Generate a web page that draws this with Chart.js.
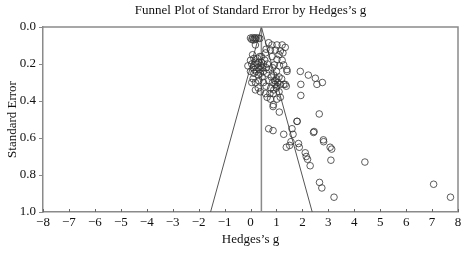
<!DOCTYPE html>
<html>
<head>
<meta charset="utf-8">
<script src="https://cdn.jsdelivr.net/npm/chart.js@4/dist/chart.umd.min.js"></script>
<style>
  html, body { margin: 0; padding: 0; background: #fff; }
  #wrap { width: 467px; height: 255px; }
</style>
</head>
<body>
<div id="wrap"><canvas id="funnel"></canvas></div>
<script>
// ============================================
// Data
// ============================================
const chartTitle = 'Funnel Plot of Standard Error by Hedges’s g';
const xTitle = 'Hedges’s g';
const yTitle = 'Standard Error';

const xTicks = [-8, -7, -6, -5, -4, -3, -2, -1, 0, 1, 2, 3, 4, 5, 6, 7, 8];
const yTicks = [0.0, 0.2, 0.4, 0.6, 0.8, 1.0];

// pooled effect and the 95% funnel limits
const meanG = 0.42;
const zLimit = 1.96;
const seMax = 1.0;

// studies: Hedges's g and its standard error
const studyG = [
    0.00, 0.08, 0.15, 0.22, 0.30, 0.36, 0.05, 0.20, 0.12,
    0.19, 0.70, 0.83, 1.02, 1.22, 0.77, 0.96, 1.15, 1.25, 1.34, 0.58, 0.42, 0.83, 1.02, 1.22, 0.60, 1.10,
    0.00, 0.13, 0.32, 0.05, 0.18, 0.25, 0.40, 0.50, 0.10, 0.28, 0.35, 0.45, 0.60, 0.00, 0.13, 0.22, 0.38,
    0.50, 0.30, 0.20, 0.15, 0.42, 0.55, -0.10, 0.65, 0.27, 0.08, 0.35, 0.62, 0.70,
    0.92, 1.12, 1.28, 1.41, 0.85, 1.00, 1.40,
    0.80, 0.90, 1.00, 1.10, 0.85, 0.95, 1.05, 1.15, 0.78, 0.90, 1.00, 1.10, 0.95, 1.02, 0.88, 1.20, 0.70, 0.75,
    0.19, 0.32, 0.50, 0.19, 0.38, 0.58, 0.64, 0.77, 0.87, 1.02, 1.15, 1.28, 1.38, 0.10, 0.45, 0.60, 0.30, 0.05,
    1.92, 2.23, 2.50, 2.77, 1.94, 2.56, 1.34, 1.94, 0.88, 1.11, 2.65, 0.70, 0.87, 1.28, 1.60, 1.79, 1.64,
    1.38, 1.51, 1.56, 1.85, 1.88, 2.11, 2.15, 2.20, 2.30, 2.43, 2.45, 2.81, 3.07, 3.13, 3.10, 4.41, 2.66,
    2.75, 3.22, 7.06, 7.71, 1.80, 2.82
];
const studySE = [
    0.060, 0.058, 0.060, 0.058, 0.060, 0.062, 0.068, 0.066, 0.070,
    0.097, 0.085, 0.097, 0.097, 0.097, 0.124, 0.125, 0.130, 0.140, 0.110, 0.140, 0.160, 0.160, 0.175, 0.180, 0.120, 0.150,
    0.180, 0.170, 0.190, 0.200, 0.210, 0.200, 0.210, 0.200, 0.220, 0.220, 0.230, 0.220, 0.220, 0.240, 0.250, 0.240, 0.250,
    0.240, 0.260, 0.190, 0.230, 0.190, 0.180, 0.210, 0.200, 0.170, 0.150, 0.160, 0.250, 0.230,
    0.205, 0.210, 0.205, 0.240, 0.220, 0.240, 0.230,
    0.270, 0.260, 0.280, 0.270, 0.300, 0.310, 0.300, 0.310, 0.330, 0.340, 0.330, 0.350, 0.290, 0.320, 0.360, 0.280, 0.290, 0.360,
    0.300, 0.290, 0.300, 0.340, 0.350, 0.360, 0.380, 0.390, 0.430, 0.390, 0.380, 0.310, 0.320, 0.280, 0.270, 0.320, 0.330, 0.300,
    0.240, 0.260, 0.277, 0.300, 0.310, 0.310, 0.310, 0.370, 0.420, 0.460, 0.470, 0.550, 0.560, 0.580, 0.550, 0.510, 0.580,
    0.650, 0.640, 0.620, 0.630, 0.650, 0.680, 0.700, 0.715, 0.750, 0.570, 0.565, 0.610, 0.650, 0.660, 0.720, 0.730, 0.840,
    0.870, 0.920, 0.850, 0.920, 0.510, 0.620
];

// ============================================
// Build datasets
// ============================================
const studyPoints = studyG.map((g, i) => ({ x: g, y: studySE[i] }));
const funnelPoints = [
    { x: meanG - zLimit * seMax, y: seMax },
    { x: meanG, y: 0 },
    { x: meanG + zLimit * seMax, y: seMax }
];
const meanPoints = [{ x: meanG, y: 0 }, { x: meanG, y: seMax }];

const serif = '"Liberation Serif", "Times New Roman", serif';
const axisGrey = '#8a8a8a';

// frame on top/right and small inward ticks on the x axis
const framePlugin = {
    id: 'frame',
    afterDraw(chart) {
        const ctx = chart.ctx;
        const a = chart.chartArea;
        const xs = chart.scales.x;
        ctx.save();
        ctx.strokeStyle = axisGrey;
        ctx.lineWidth = 1.5;
        ctx.beginPath();
        ctx.moveTo(a.left, a.top);
        ctx.lineTo(a.right, a.top);
        ctx.lineTo(a.right, a.bottom);
        ctx.stroke();
        ctx.lineWidth = 1;
        ctx.strokeStyle = '#666';
        xTicks.forEach(v => {
            const px = Math.round(xs.getPixelForValue(v)) + 0.5;
            ctx.beginPath();
            ctx.moveTo(px, a.bottom);
            ctx.lineTo(px, a.bottom - 3);
            ctx.stroke();
        });
        // title centred over the plot area
        ctx.fillStyle = '#111';
        ctx.font = '13px ' + serif;
        ctx.textAlign = 'center';
        ctx.textBaseline = 'middle';
        ctx.fillText(chartTitle, (a.left + a.right) / 2, 11);
        ctx.restore();
    }
};

// ============================================
// Chart
// ============================================
new Chart(document.getElementById('funnel'), {
    type: 'scatter',
    data: {
        datasets: [
            {
                type: 'line',
                data: funnelPoints,
                borderColor: '#555',
                borderWidth: 1,
                pointRadius: 0,
                fill: false,
                tension: 0,
                order: 2
            },
            {
                type: 'line',
                data: meanPoints,
                borderColor: axisGrey,
                borderWidth: 1.5,
                pointRadius: 0,
                fill: false,
                order: 3
            },
            {
                data: studyPoints,
                pointRadius: 3.3,
                pointBorderWidth: 0.8,
                borderColor: '#333',
                backgroundColor: 'rgba(0,0,0,0)',
                order: 1
            }
        ]
    },
    options: {
        responsive: true,
        maintainAspectRatio: false,
        animation: false,
        layout: { padding: { top: 27, right: 9, left: 0, bottom: 0 } },
        plugins: {
            legend: { display: false },
            title: { display: false },
            tooltip: { enabled: false }
        },
        scales: {
            x: {
                type: 'linear',
                min: -8,
                max: 8,
                afterBuildTicks: s => { s.ticks = xTicks.map(v => ({ value: v })); },
                afterFit: s => { s.height = 43; },
                grid: { display: false, drawTicks: false },
                border: { display: true, color: axisGrey, width: 1.5 },
                ticks: {
                    color: '#111',
                    padding: 3,
                    maxRotation: 0,
                    autoSkip: false,
                    font: { family: serif, size: 13 },
                    callback: v => (v < 0 ? '\u2212' + Math.abs(v) : String(v))
                },
                title: {
                    display: true,
                    text: xTitle,
                    color: '#111',
                    font: { family: serif, size: 13 },
                    padding: { top: 0, bottom: 8 }
                }
            },
            y: {
                type: 'linear',
                reverse: true,
                min: 0,
                max: 1,
                afterBuildTicks: s => { s.ticks = yTicks.map(v => ({ value: v })); },
                afterFit: s => { s.width = 43; },
                grid: {
                    display: true,
                    drawOnChartArea: false,
                    drawTicks: true,
                    tickLength: 4,
                    color: axisGrey
                },
                border: { display: true, color: axisGrey, width: 1.5 },
                ticks: {
                    color: '#111',
                    padding: 3,
                    font: { family: serif, size: 13 },
                    callback: v => Number(v).toFixed(1)
                },
                title: {
                    display: true,
                    text: yTitle,
                    color: '#111',
                    font: { family: serif, size: 13 },
                    padding: { top: 5, bottom: 0 }
                }
            }
        }
    },
    plugins: [framePlugin]
});
</script>
</body>
</html>
